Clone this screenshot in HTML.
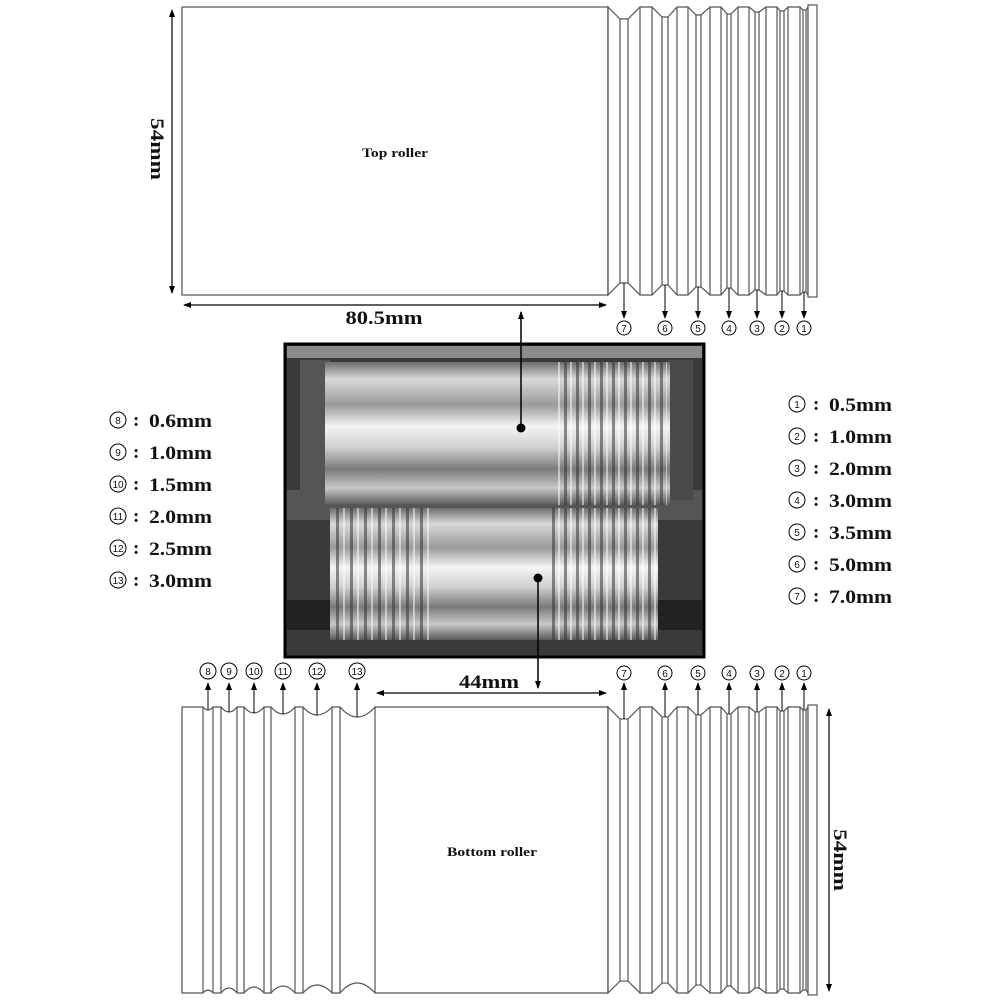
<!DOCTYPE html>
<html><head><meta charset="utf-8"><style>
html,body{margin:0;padding:0;background:#fff;width:1000px;height:1000px;overflow:hidden}
svg{display:block}
.b{font-family:"Liberation Serif",serif;font-weight:bold;fill:#111}
.n{font-family:"Liberation Sans",sans-serif;font-size:10px;fill:#111;text-anchor:middle}
</style></head><body>
<svg width="1000" height="1000" viewBox="0 0 1000 1000" xmlns="http://www.w3.org/2000/svg">
<defs>
<marker id="ah" markerWidth="8" markerHeight="8" refX="7" refY="4" orient="auto-start-reverse" markerUnits="userSpaceOnUse">
<path d="M0,1 L8,4 L0,7 Z" fill="#000"/></marker>
<g id="rs" fill="#fff" stroke="#555" stroke-width="1.2">
<path d="M608,7 L620,19 L628,19 L640,7 L652,7 L662,17 L668,17 L677,7 L688,7 L696,15 L701,15 L710,7 L721,7 L727,14 L731,14 L738,7 L749,7 L755,12 L759,12 L766,7 L777,7 L780,11 L784,11 L788,7 L800,7 L803,10 L806,10 L808,7 L808,295 L806,292 L803,292 L800,295 L788,295 L784,291 L780,291 L777,295 L766,295 L759,290 L755,290 L749,295 L738,295 L731,288 L727,288 L721,295 L710,295 L701,287 L696,287 L688,295 L677,295 L668,285 L662,285 L652,295 L640,295 L628,283 L620,283 L608,295 Z"/>
<rect x="808" y="5" width="9" height="292"/>
<path fill="none" d="M608,7V295 M640,7V295 M652,7V295 M677,7V295 M688,7V295 M710,7V295 M721,7V295 M738,7V295 M749,7V295 M766,7V295 M777,7V295 M788,7V295 M800,7V295 M620,19V283 M628,19V283 M662,17V285 M668,17V285 M696,15V287 M701,15V287 M727,14V288 M731,14V288 M755,12V290 M759,12V290 M780,11V291 M784,11V291 M803,10V292 M806,10V292"/>
</g>
<linearGradient id="mt" x1="0" y1="0" x2="0" y2="1">
<stop offset="0" stop-color="#6d6d6d"/><stop offset=".12" stop-color="#d8d8d8"/><stop offset=".3" stop-color="#9a9a9a"/><stop offset=".45" stop-color="#f4f4f4"/><stop offset=".6" stop-color="#cfcfcf"/><stop offset=".75" stop-color="#7a7a7a"/><stop offset=".88" stop-color="#c8c8c8"/><stop offset="1" stop-color="#5a5a5a"/></linearGradient>
<pattern id="gr" width="12" height="10" patternUnits="userSpaceOnUse">
<rect x="0" width="3" height="10" fill="#333" opacity=".55"/><rect x="6" width="2" height="10" fill="#fff" opacity=".5"/></pattern>
<pattern id="gr2" width="14" height="10" patternUnits="userSpaceOnUse">
<rect x="0" width="3" height="10" fill="#333" opacity=".55"/><rect x="7" width="2" height="10" fill="#fff" opacity=".5"/></pattern>
</defs>

<!-- top roller -->
<rect x="182" y="7" width="426" height="288" fill="#fff" stroke="#555" stroke-width="1.2"/>
<use href="#rs"/>
<text class="b" x="395" y="157" font-size="13" text-anchor="middle" textLength="66" lengthAdjust="spacingAndGlyphs">Top roller</text>

<!-- bottom roller -->
<path d="M182,707 L203,707 Q208,713 213,707 L221,707 Q229,717 237,707 L244,707 Q254,719 264,707 L271,707 Q283,721 295,707 L303,707 Q317,723 332,707 L340,707 Q357,727 375,707 L608,707 L608,993 L375,993 Q357,973 340,993 L332,993 Q317,977 303,993 L295,993 Q283,979 271,993 L264,993 Q254,981 244,993 L237,993 Q229,983 221,993 L213,993 Q208,987 203,993 L182,993 Z" fill="#fff" stroke="#555" stroke-width="1.2"/>
<path d="M203,707V993 M213,707V993 M221,707V993 M237,707V993 M244,707V993 M264,707V993 M271,707V993 M295,707V993 M303,707V993 M332,707V993 M340,707V993 M375,707V993" stroke="#555" stroke-width="1.2"/>
<use href="#rs" transform="translate(0,707) scale(1,0.993) translate(0,-7)"/>
<text class="b" x="492" y="856" font-size="13" text-anchor="middle" textLength="90" lengthAdjust="spacingAndGlyphs">Bottom roller</text>

<!-- dimensions -->
<line x1="172" y1="10" x2="172" y2="293" stroke="#000" stroke-width="1.2" marker-start="url(#ah)" marker-end="url(#ah)"/>
<text class="b" font-size="19" transform="translate(151,149) rotate(90)" text-anchor="middle" textLength="62" lengthAdjust="spacingAndGlyphs">54mm</text>
<line x1="184" y1="305" x2="606" y2="305" stroke="#000" stroke-width="1.2" marker-start="url(#ah)" marker-end="url(#ah)"/>
<text class="b" x="384" y="324" font-size="19" text-anchor="middle" textLength="77" lengthAdjust="spacingAndGlyphs">80.5mm</text>
<line x1="377" y1="693" x2="606" y2="693" stroke="#000" stroke-width="1.2" marker-start="url(#ah)" marker-end="url(#ah)"/>
<text class="b" x="489" y="688" font-size="19" text-anchor="middle" textLength="60" lengthAdjust="spacingAndGlyphs">44mm</text>
<line x1="829" y1="709" x2="829" y2="991" stroke="#000" stroke-width="1.2" marker-start="url(#ah)" marker-end="url(#ah)"/>
<text class="b" font-size="19" transform="translate(834,860) rotate(90)" text-anchor="middle" textLength="62" lengthAdjust="spacingAndGlyphs">54mm</text>

<!-- photo -->
<rect x="285" y="344" width="419" height="313" fill="#3a3a3a" stroke="#000" stroke-width="3"/>
<rect x="287" y="346" width="415" height="12" fill="#8a8a8a"/>
<rect x="287" y="490" width="415" height="30" fill="#555"/>
<rect x="287" y="600" width="415" height="30" fill="#222"/>
<rect x="300" y="360" width="30" height="140" fill="#555"/>
<rect x="668" y="360" width="25" height="140" fill="#4a4a4a"/>
<rect x="325" y="362" width="345" height="143" fill="url(#mt)"/>
<rect x="555" y="362" width="112" height="143" fill="url(#gr)"/>
<rect x="330" y="508" width="328" height="132" fill="url(#mt)"/>
<rect x="332" y="508" width="100" height="132" fill="url(#gr2)"/>
<rect x="550" y="508" width="108" height="132" fill="url(#gr)"/>

<!-- center arrows -->
<line x1="521" y1="428" x2="521" y2="312" stroke="#000" stroke-width="1.5" marker-end="url(#ah)"/>
<circle cx="521" cy="428" r="4.5" fill="#000"/>
<line x1="538" y1="578" x2="538" y2="688" stroke="#000" stroke-width="1.5" marker-end="url(#ah)"/>
<circle cx="538" cy="578" r="4.5" fill="#000"/>

<!-- roller labels -->
<g stroke="#000" stroke-width="1" marker-end="url(#ah)">
<line x1="624" y1="283" x2="624" y2="318"/><line x1="665" y1="285" x2="665" y2="318"/><line x1="698" y1="287" x2="698" y2="318"/><line x1="729" y1="288" x2="729" y2="318"/><line x1="757" y1="290" x2="757" y2="318"/><line x1="782" y1="291" x2="782" y2="318"/><line x1="804" y1="292" x2="804" y2="318"/>
<line x1="624" y1="719" x2="624" y2="683"/><line x1="665" y1="717" x2="665" y2="683"/><line x1="698" y1="715" x2="698" y2="683"/><line x1="729" y1="714" x2="729" y2="683"/><line x1="757" y1="712" x2="757" y2="683"/><line x1="782" y1="711" x2="782" y2="683"/><line x1="804" y1="710" x2="804" y2="683"/>
<line x1="208" y1="710" x2="208" y2="683"/><line x1="229" y1="712" x2="229" y2="683"/><line x1="254" y1="713" x2="254" y2="683"/><line x1="283" y1="714" x2="283" y2="683"/><line x1="317" y1="715" x2="317" y2="683"/><line x1="357" y1="717" x2="357" y2="683"/>
</g>
<g fill="#fff" stroke="#000" stroke-width="1">
<circle cx="624" cy="328" r="7"/><circle cx="665" cy="328" r="7"/><circle cx="698" cy="328" r="7"/><circle cx="729" cy="328" r="7"/><circle cx="757" cy="328" r="7"/><circle cx="782" cy="328" r="7"/><circle cx="804" cy="328" r="7"/>
<circle cx="624" cy="673" r="7"/><circle cx="665" cy="673" r="7"/><circle cx="698" cy="673" r="7"/><circle cx="729" cy="673" r="7"/><circle cx="757" cy="673" r="7"/><circle cx="782" cy="673" r="7"/><circle cx="804" cy="673" r="7"/>
<circle cx="208" cy="671" r="8"/><circle cx="229" cy="671" r="8"/><circle cx="254" cy="671" r="8"/><circle cx="283" cy="671" r="8"/><circle cx="317" cy="671" r="8"/><circle cx="357" cy="671" r="8"/>
</g>
<g>
<text x="624" y="332" class="n">7</text><text x="665" y="332" class="n">6</text><text x="698" y="332" class="n">5</text><text x="729" y="332" class="n">4</text><text x="757" y="332" class="n">3</text><text x="782" y="332" class="n">2</text><text x="804" y="332" class="n">1</text>
<text x="624" y="677" class="n">7</text><text x="665" y="677" class="n">6</text><text x="698" y="677" class="n">5</text><text x="729" y="677" class="n">4</text><text x="757" y="677" class="n">3</text><text x="782" y="677" class="n">2</text><text x="804" y="677" class="n">1</text>
<text x="208" y="675" class="n">8</text><text x="229" y="675" class="n">9</text><text x="254" y="675" class="n" font-size="9">10</text><text x="283" y="675" class="n" font-size="9">11</text><text x="317" y="675" class="n" font-size="9">12</text><text x="357" y="675" class="n" font-size="9">13</text>
</g>

<!-- legends -->
<g fill="#fff" stroke="#000" stroke-width="1">
<circle cx="118" cy="420" r="8"/><circle cx="118" cy="452" r="8"/><circle cx="118" cy="484" r="8"/><circle cx="118" cy="516" r="8"/><circle cx="118" cy="548" r="8"/><circle cx="118" cy="580" r="8"/>
<circle cx="797" cy="404" r="8"/><circle cx="797" cy="436" r="8"/><circle cx="797" cy="468" r="8"/><circle cx="797" cy="500" r="8"/><circle cx="797" cy="532" r="8"/><circle cx="797" cy="564" r="8"/><circle cx="797" cy="596" r="8"/>
</g>
<g>
<text x="118" y="424" class="n" font-size="11">8</text><text x="118" y="456" class="n" font-size="11">9</text><text x="118" y="488" class="n">10</text><text x="118" y="520" class="n">11</text><text x="118" y="552" class="n">12</text><text x="118" y="584" class="n">13</text>
<text x="797" y="408" class="n" font-size="11">1</text><text x="797" y="440" class="n" font-size="11">2</text><text x="797" y="472" class="n" font-size="11">3</text><text x="797" y="504" class="n" font-size="11">4</text><text x="797" y="536" class="n" font-size="11">5</text><text x="797" y="568" class="n" font-size="11">6</text><text x="797" y="600" class="n" font-size="11">7</text>
</g>
<g class="b" font-size="19">
<text x="133" y="426">:</text><text x="133" y="458">:</text><text x="133" y="490">:</text><text x="133" y="522">:</text><text x="133" y="554">:</text><text x="133" y="586">:</text>
<text x="149" y="427" textLength="63" lengthAdjust="spacingAndGlyphs">0.6mm</text><text x="149" y="459" textLength="63" lengthAdjust="spacingAndGlyphs">1.0mm</text><text x="149" y="491" textLength="63" lengthAdjust="spacingAndGlyphs">1.5mm</text><text x="149" y="523" textLength="63" lengthAdjust="spacingAndGlyphs">2.0mm</text><text x="149" y="555" textLength="63" lengthAdjust="spacingAndGlyphs">2.5mm</text><text x="149" y="587" textLength="63" lengthAdjust="spacingAndGlyphs">3.0mm</text>
<text x="813" y="410">:</text><text x="813" y="442">:</text><text x="813" y="474">:</text><text x="813" y="506">:</text><text x="813" y="538">:</text><text x="813" y="570">:</text><text x="813" y="602">:</text>
<text x="829" y="411" textLength="63" lengthAdjust="spacingAndGlyphs">0.5mm</text><text x="829" y="443" textLength="63" lengthAdjust="spacingAndGlyphs">1.0mm</text><text x="829" y="475" textLength="63" lengthAdjust="spacingAndGlyphs">2.0mm</text><text x="829" y="507" textLength="63" lengthAdjust="spacingAndGlyphs">3.0mm</text><text x="829" y="539" textLength="63" lengthAdjust="spacingAndGlyphs">3.5mm</text><text x="829" y="571" textLength="63" lengthAdjust="spacingAndGlyphs">5.0mm</text><text x="829" y="603" textLength="63" lengthAdjust="spacingAndGlyphs">7.0mm</text>
</g>
</svg>
</body></html>
